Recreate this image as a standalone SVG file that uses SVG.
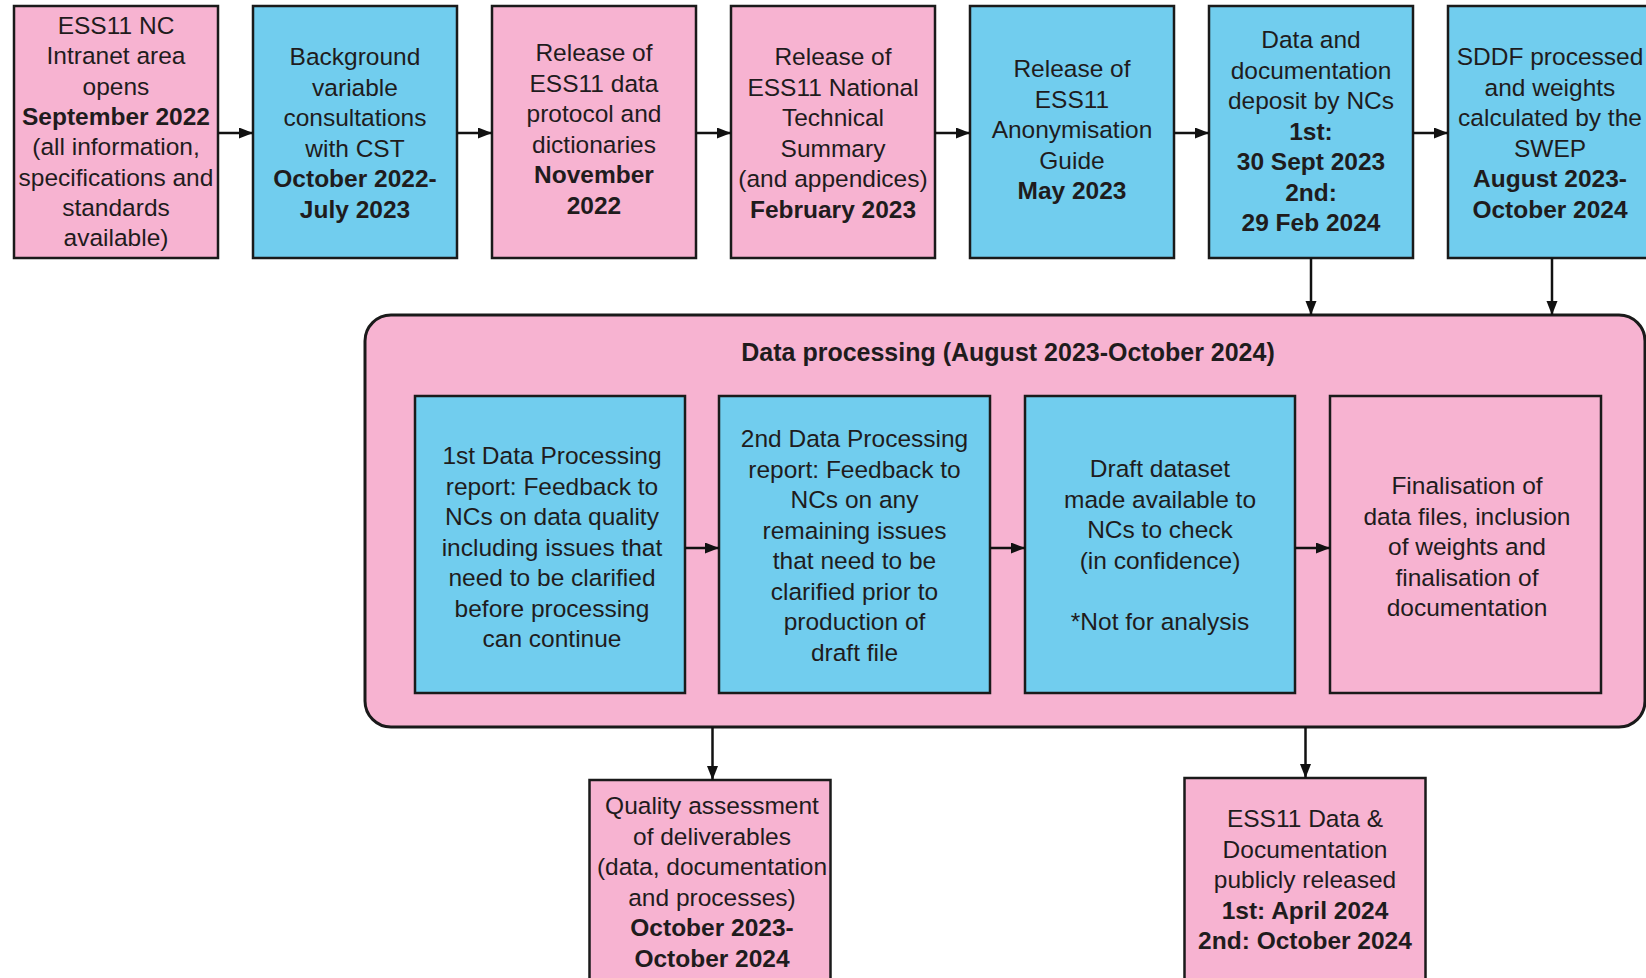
<svg xmlns="http://www.w3.org/2000/svg" width="1646" height="978" viewBox="0 0 1646 978">
<style>
.pink{fill:#F7B3D1;stroke:#1a1a1a;stroke-width:2.5}
.blue{fill:#71CDEE;stroke:#1a1a1a;stroke-width:2.5}
.cont{fill:#F7B3D1;stroke:#1a1a1a;stroke-width:3}
text{font-family:"Liberation Sans",Arial,sans-serif;font-size:24.5px;fill:#1f1c1d;text-anchor:middle}
.b{font-weight:bold}
.t{font-weight:bold;font-size:25px}
.c{stroke:#111;stroke-width:2.5;fill:none}
</style>
<defs>
<marker id="ah" markerUnits="userSpaceOnUse" markerWidth="16" markerHeight="13" refX="14" refY="5.5" orient="auto">
<path d="M0,0 L14,5.5 L0,11 z" fill="#111"/>
</marker>
</defs>
<rect width="1646" height="978" fill="#ffffff"/>
<g id="container">
<rect class="cont" x="365" y="315" width="1280" height="412" rx="26"/>
<text class="t" x="1008" y="361">Data processing (August 2023-October 2024)</text>
</g>
<g id="n1">
<rect class="pink" x="14" y="6" width="204" height="252"/>
<text x="116" y="34">ESS11 NC</text>
<text x="116" y="64.3">Intranet area</text>
<text x="116" y="94.6">opens</text>
<text class="b" x="116" y="125">September 2022</text>
<text x="116" y="155.3">(all information,</text>
<text x="116" y="185.6">specifications and</text>
<text x="116" y="216">standards</text>
<text x="116" y="246.3">available)</text>
</g>
<g id="n2">
<rect class="blue" x="253" y="6" width="204" height="252"/>
<text x="355" y="65">Background</text>
<text x="355" y="95.5">variable</text>
<text x="355" y="126">consultations</text>
<text x="355" y="156.5">with CST</text>
<text class="b" x="355" y="187">October 2022-</text>
<text class="b" x="355" y="217.5">July 2023</text>
</g>
<g id="n3">
<rect class="pink" x="492" y="6" width="204" height="252"/>
<text x="594" y="61">Release of</text>
<text x="594" y="91.5">ESS11 data</text>
<text x="594" y="122">protocol and</text>
<text x="594" y="152.5">dictionaries</text>
<text class="b" x="594" y="183">November</text>
<text class="b" x="594" y="213.5">2022</text>
</g>
<g id="n4">
<rect class="pink" x="731" y="6" width="204" height="252"/>
<text x="833" y="65">Release of</text>
<text x="833" y="95.5">ESS11 National</text>
<text x="833" y="126">Technical</text>
<text x="833" y="156.5">Summary</text>
<text x="833" y="187">(and appendices)</text>
<text class="b" x="833" y="217.5">February 2023</text>
</g>
<g id="n5">
<rect class="blue" x="970" y="6" width="204" height="252"/>
<text x="1072" y="77">Release of</text>
<text x="1072" y="107.5">ESS11</text>
<text x="1072" y="138">Anonymisation</text>
<text x="1072" y="168.5">Guide</text>
<text class="b" x="1072" y="199">May 2023</text>
</g>
<g id="n6">
<rect class="blue" x="1209" y="6" width="204" height="252"/>
<text x="1311" y="48">Data and</text>
<text x="1311" y="78.5">documentation</text>
<text x="1311" y="109">deposit by NCs</text>
<text class="b" x="1311" y="139.5">1st:</text>
<text class="b" x="1311" y="170">30 Sept 2023</text>
<text class="b" x="1311" y="200.5">2nd:</text>
<text class="b" x="1311" y="231">29 Feb 2024</text>
</g>
<g id="n7">
<rect class="blue" x="1448" y="6" width="210" height="252"/>
<text x="1550" y="65">SDDF processed</text>
<text x="1550" y="95.5">and weights</text>
<text x="1550" y="126">calculated by the</text>
<text x="1550" y="156.5">SWEP</text>
<text class="b" x="1550" y="187">August 2023-</text>
<text class="b" x="1550" y="217.5">October 2024</text>
</g>
<g id="p1">
<rect class="blue" x="415" y="396" width="270" height="297"/>
<text x="552" y="464">1st Data Processing</text>
<text x="552" y="494.5">report: Feedback to</text>
<text x="552" y="525">NCs on data quality</text>
<text x="552" y="555.5">including issues that</text>
<text x="552" y="586">need to be clarified</text>
<text x="552" y="616.5">before processing</text>
<text x="552" y="647">can continue</text>
</g>
<g id="p2">
<rect class="blue" x="719" y="396" width="271" height="297"/>
<text x="854.5" y="447">2nd Data Processing</text>
<text x="854.5" y="477.5">report: Feedback to</text>
<text x="854.5" y="508">NCs on any</text>
<text x="854.5" y="538.5">remaining issues</text>
<text x="854.5" y="569">that need to be</text>
<text x="854.5" y="599.5">clarified prior to</text>
<text x="854.5" y="630">production of</text>
<text x="854.5" y="660.5">draft file</text>
</g>
<g id="p3">
<rect class="blue" x="1025" y="396" width="270" height="297"/>
<text x="1160" y="477">Draft dataset</text>
<text x="1160" y="507.5">made available to</text>
<text x="1160" y="538">NCs to check</text>
<text x="1160" y="568.5">(in confidence)</text>
<text x="1160" y="630">*Not for analysis</text>
</g>
<g id="p4">
<rect class="pink" x="1330" y="396" width="271" height="297"/>
<text x="1467" y="494">Finalisation of</text>
<text x="1467" y="524.5">data files, inclusion</text>
<text x="1467" y="555">of weights and</text>
<text x="1467" y="585.5">finalisation of</text>
<text x="1467" y="616">documentation</text>
</g>
<g id="qa">
<rect class="pink" x="589.5" y="780" width="241" height="220"/>
<text x="712" y="814">Quality assessment</text>
<text x="712" y="844.5">of deliverables</text>
<text x="712" y="875">(data, documentation</text>
<text x="712" y="905.5">and processes)</text>
<text class="b" x="712" y="936">October 2023-</text>
<text class="b" x="712" y="966.5">October 2024</text>
</g>
<g id="release">
<rect class="pink" x="1184.5" y="778" width="241" height="220"/>
<text x="1305" y="827">ESS11 Data &amp;</text>
<text x="1305" y="857.5">Documentation</text>
<text x="1305" y="888">publicly released</text>
<text class="b" x="1305" y="918.5">1st: April 2024</text>
<text class="b" x="1305" y="949">2nd: October 2024</text>
</g>
<g id="connectors">
<line class="c" x1="218" y1="133" x2="253" y2="133" marker-end="url(#ah)"/>
<line class="c" x1="457" y1="133" x2="492" y2="133" marker-end="url(#ah)"/>
<line class="c" x1="696" y1="133" x2="731" y2="133" marker-end="url(#ah)"/>
<line class="c" x1="935" y1="133" x2="970" y2="133" marker-end="url(#ah)"/>
<line class="c" x1="1174" y1="133" x2="1209" y2="133" marker-end="url(#ah)"/>
<line class="c" x1="1413" y1="133" x2="1448" y2="133" marker-end="url(#ah)"/>
<line class="c" x1="1311" y1="258" x2="1311" y2="315" marker-end="url(#ah)"/>
<line class="c" x1="1552" y1="258" x2="1552" y2="315" marker-end="url(#ah)"/>
<line class="c" x1="685" y1="548" x2="719" y2="548" marker-end="url(#ah)"/>
<line class="c" x1="990" y1="548" x2="1025" y2="548" marker-end="url(#ah)"/>
<line class="c" x1="1295" y1="548" x2="1330" y2="548" marker-end="url(#ah)"/>
<line class="c" x1="712.5" y1="727" x2="712.5" y2="780" marker-end="url(#ah)"/>
<line class="c" x1="1305.5" y1="727" x2="1305.5" y2="778" marker-end="url(#ah)"/>
</g>
</svg>
